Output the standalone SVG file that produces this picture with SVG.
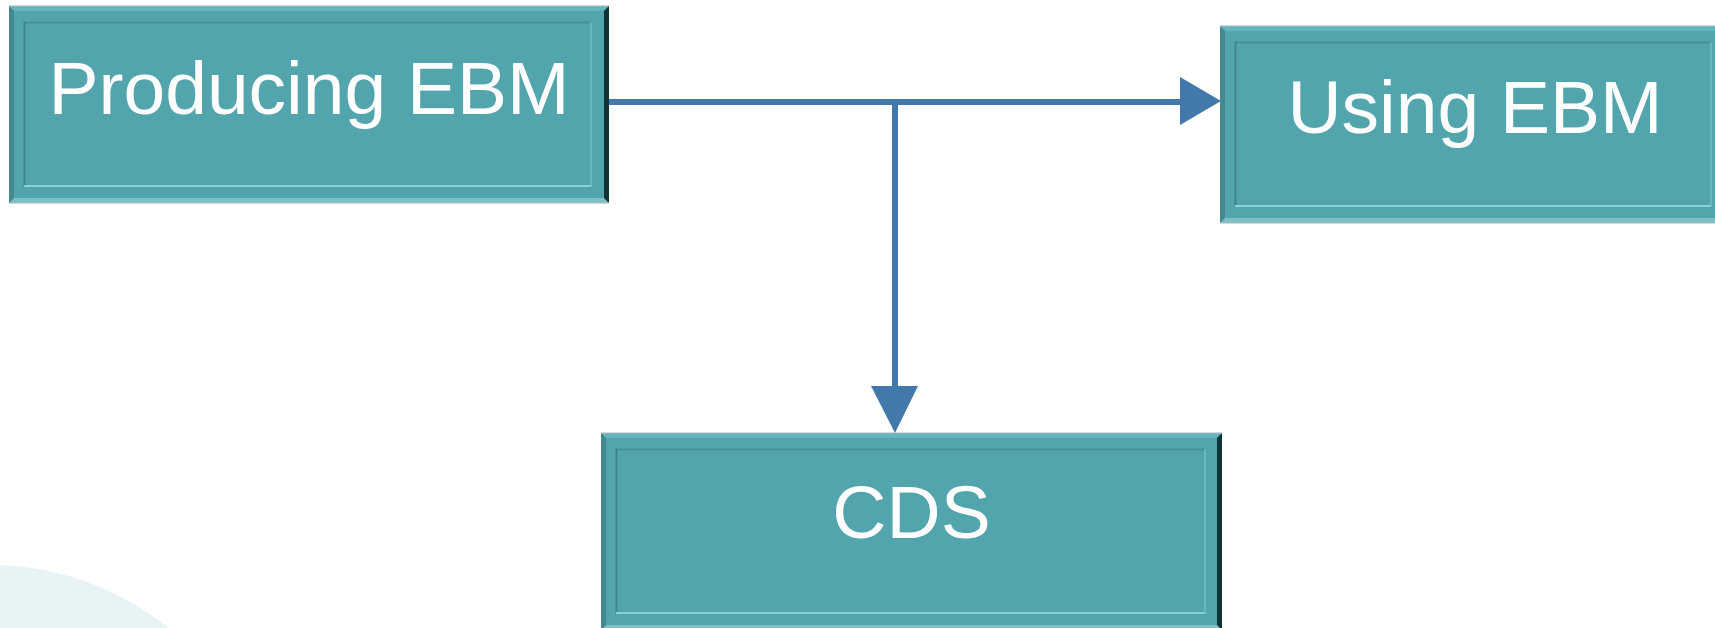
<svg xmlns="http://www.w3.org/2000/svg" width="1715" height="628" viewBox="0 0 1715 628">
<style>
.face{fill:#52A5AD}
.tb{fill:#62B6BC}
.lb{fill:#43898E}
.rb{fill:#0F3436}
.bb{fill:#7CC0C5}
.edge{fill:none;stroke:#A9B9BA;stroke-width:1}
.it{stroke:#45919A;stroke-width:2}
.il{stroke:#3E858B;stroke-width:2}
.ib{stroke:#86D4DA;stroke-width:2}
.ir{stroke:#6BBFC5;stroke-width:1.5}
.lbl{font-family:"Liberation Sans",Arial,sans-serif;font-size:75px;fill:#FFFFFF;text-anchor:middle}
.conn{stroke:#4279AA;stroke-width:6;fill:none}
.head{fill:#4279AA}
</style>
<rect width="1715" height="628" fill="#FFFFFF"/>
<circle cx="-10" cy="850" r="285" fill="#E7F3F5"/>

<g id="connectors">
<path class="conn" d="M609 102 H1182"/>
<polygon class="head" points="1180,77 1221,101 1180,125"/>
<path class="conn" d="M895 102 V388"/>
<polygon class="head" points="871,386 918,386 895,433"/>
</g>

<g id="node-producing">
<rect class="face" x="9" y="6" width="600" height="197"/>
<polygon class="tb" points="9,6 609,6 604,11 14,11"/>
<polygon class="bb" points="9,203 609,203 604,198 14,198"/>
<polygon class="lb" points="9,6 14,11 14,198 9,203"/>
<polygon class="rb" points="609,6 609,203 604,198 604,11"/>
<line class="it" x1="24" y1="22.5" x2="592" y2="22.5"/>
<line class="il" x1="24.5" y1="22" x2="24.5" y2="187"/>
<line class="ib" x1="24" y1="186" x2="592" y2="186"/>
<line class="ir" x1="591" y1="22" x2="591" y2="187"/>
<line class="edge" x1="9" y1="6" x2="609" y2="6"/>
<line class="edge" x1="9" y1="203" x2="609" y2="203"/>
<text class="lbl" x="309" y="114">Producing EBM</text>
</g>

<g id="node-using">
<rect class="face" x="1220" y="26" width="508" height="197"/>
<polygon class="tb" points="1220,26 1728,26 1723,31 1225,31"/>
<polygon class="bb" points="1220,223 1728,223 1723,218 1225,218"/>
<polygon class="lb" points="1220,26 1225,31 1225,218 1220,223"/>
<line class="it" x1="1235" y1="42.5" x2="1712" y2="42.5"/>
<line class="il" x1="1235.5" y1="42" x2="1235.5" y2="207"/>
<line class="ib" x1="1235" y1="206" x2="1712" y2="206"/>
<line class="ir" x1="1711" y1="42" x2="1711" y2="207"/>
<line class="edge" x1="1220" y1="26" x2="1728" y2="26"/>
<line class="edge" x1="1220" y1="223" x2="1728" y2="223"/>
<text class="lbl" x="1475" y="133">Using EBM</text>
</g>

<g id="node-cds">
<rect class="face" x="601" y="433" width="621" height="197"/>
<polygon class="tb" points="601,433 1222,433 1217,438 606,438"/>
<polygon class="bb" points="601,630 1222,630 1217,625 606,625"/>
<polygon class="lb" points="601,433 606,438 606,625 601,630"/>
<polygon class="rb" points="1222,433 1222,630 1217,625 1217,438"/>
<line class="it" x1="616" y1="449.5" x2="1206" y2="449.5"/>
<line class="il" x1="616.5" y1="449" x2="616.5" y2="614"/>
<line class="ib" x1="616" y1="613" x2="1206" y2="613"/>
<line class="ir" x1="1205" y1="449" x2="1205" y2="614"/>
<line class="edge" x1="601" y1="433" x2="1222" y2="433"/>
<text class="lbl" x="911.5" y="538">CDS</text>
</g>
</svg>
